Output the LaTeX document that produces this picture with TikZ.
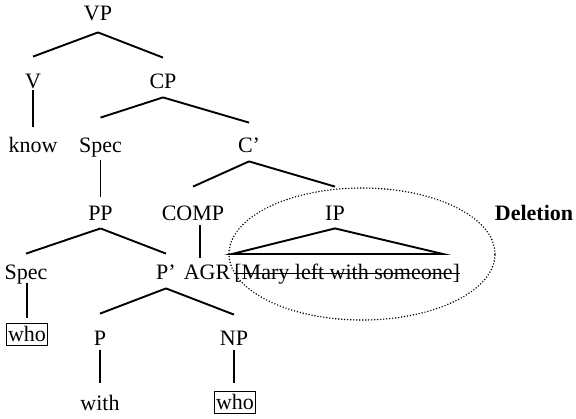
\documentclass[tikz,border=0pt]{standalone}
\usepackage{fontspec}
\setmainfont{Liberation Serif}
\usetikzlibrary{shapes.geometric,calc}

\begin{document}
\begin{tikzpicture}[
    x=0.5pt, y=-0.5pt,
    font=\fontsize{11}{13}\selectfont,
    cat/.style={inner sep=0pt, anchor=base, text height=7.5pt, text depth=0pt},
    boxed/.style={cat, draw, line width=0.5pt, inner xsep=0.8pt, inner ysep=1.5pt, text depth=0.5pt},
    branch/.style={line width=0.95pt},
    stem/.style={line width=0.95pt},
    gapzone/.style={ellipse, draw, line width=0.8pt, dash pattern=on 0pt off 1.5pt, line cap=round, minimum width=133pt, minimum height=66pt, inner sep=0pt}
]
    \useasboundingbox (0,0) rectangle (576,418);

    \node (vp) [cat] at (98,20) {VP};
    \node (v) [cat] at (33,88) {V};
    \node (cp) [cat] at (163,88) {CP};
    \node (know) [cat] at (33,152) {know};
    \node (spec) [cat] at (100.5,152) {Spec};
    \node (cbar) [cat] at (249,152) {C'};
    \node (pp) [cat] at (100.5,220) {PP};
    \node (comp) [cat] at (193,220) {COMP};
    \node (ip) [cat] at (335,220) {IP};
    \node (del) [cat, font=\fontsize{11}{13}\selectfont\bfseries] at (534,220) {Deletion};
    \node (spectwo) [cat] at (26,279) {Spec};
    \node (pbar) [cat] at (166,279) {P'};
    \node (agr) [cat] at (207,279) {AGR};
    \node (mary) [cat, anchor=base west] at (234,279) {[Mary left with someone]};
    \node (whoone) [boxed] at (27,341) {who};
    \node (p) [cat] at (100,345) {P};
    \node (np) [cat] at (234,345) {NP};
    \node (with) [cat] at (100,410) {with};
    \node (whotwo) [boxed] at (235,409) {who};
    \node (zone) [gapzone] at (362,254) {};

    \coordinate (tl) at (232,254);
    \coordinate (tr) at (443,254);
    \coordinate (cm) at ($(comp.south)!.5!(agr.north)$);

    \draw [branch] ([yshift=-6pt]vp.south) -- ([yshift=8pt]v.north);
    \draw [branch] ([yshift=-6pt]vp.south) -- ([yshift=7.5pt]cp.north);
    \draw [stem] ([yshift=-1pt]v.south) -- ([yshift=5pt]know.north);
    \draw [branch] ([yshift=-4.5pt]cp.south) -- ([yshift=9.5pt]spec.north);
    \draw [branch] ([yshift=-4.5pt]cp.south) -- ([yshift=7pt]cbar.north);
    \draw [stem] ([yshift=-4pt]spec.south) -- ([yshift=4pt]pp.north);
    \draw [branch] ([yshift=-4.5pt]cbar.south) -- ([yshift=9pt]comp.north);
    \draw [branch] ([yshift=-4.5pt]cbar.south) -- ([yshift=9pt]ip.north);
    \draw [branch] ([yshift=-4pt]pp.south) -- ([yshift=5pt]spectwo.north);
    \draw [branch] ([yshift=-4pt]pp.south) -- ([yshift=5pt]pbar.north);
    \draw [stem] ([yshift=-2.5pt]cm |- comp.south) -- ([yshift=3pt]cm |- agr.north);
    \draw [branch] ([yshift=-4pt]ip.south) -- (tr) -- (tl) -- cycle;
    \draw [line width=0.8pt] ([yshift=2.7pt]mary.base west) -- ([yshift=2.7pt]mary.base east);
    \draw [stem] ([yshift=-2pt]whoone.north |- spectwo.south) -- ([yshift=2.5pt]whoone.north);
    \draw [branch] ([yshift=-4.5pt]pbar.south) -- ([yshift=8pt]p.north);
    \draw [branch] ([yshift=-4.5pt]pbar.south) -- ([yshift=7.5pt]np.north);
    \draw [stem] ([yshift=-2.5pt]p.south) -- ([yshift=6pt]with.north);
    \draw [stem] ([yshift=-2.5pt]np.south) -- ([yshift=4pt]np.south |- whotwo.north);
\end{tikzpicture}
\end{document}
